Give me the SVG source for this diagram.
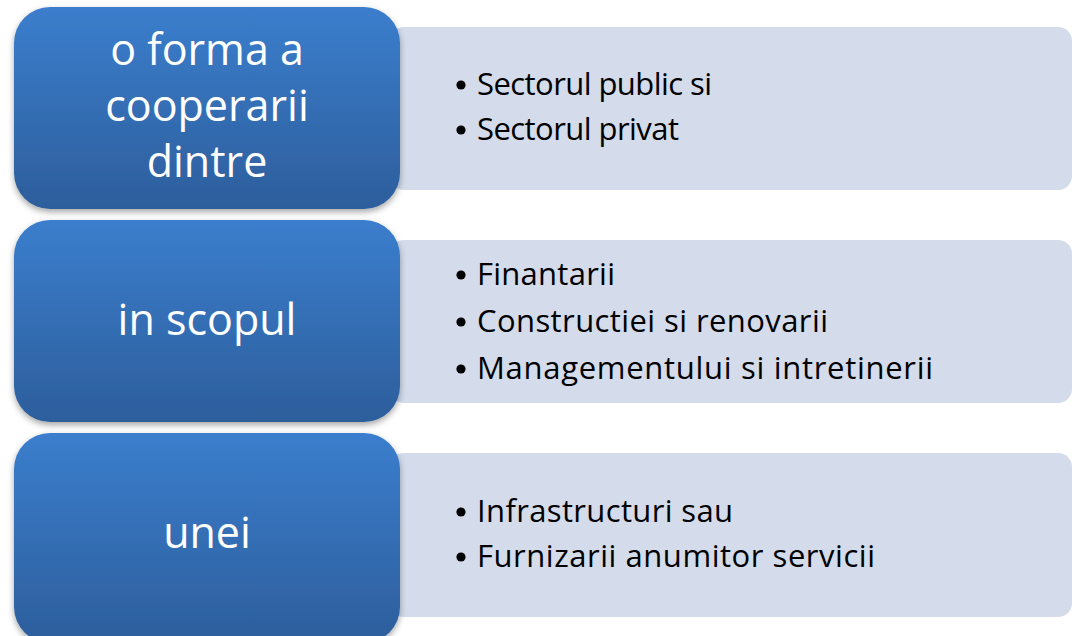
<svg xmlns="http://www.w3.org/2000/svg" width="1074" height="636" viewBox="0 0 1074 636">
  <defs>
    <linearGradient id="blueGrad" x1="0" y1="0" x2="0" y2="1">
      <stop offset="0" stop-color="#3b7ecd"/>
      <stop offset="1" stop-color="#2d5e9c"/>
    </linearGradient>
    <filter id="shadow" x="-10%" y="-10%" width="120%" height="130%">
      <feDropShadow dx="0" dy="3" stdDeviation="3" flood-color="#000000" flood-opacity="0.35"/>
    </filter>
  </defs>
  <style>
    .blue { fill: url(#blueGrad); filter: url(#shadow); }
    .light { fill: #d4dbea; }
    .head { font-family: "Open Sans", "Noto Sans", sans-serif; font-size: 43px; fill: #ffffff; text-anchor: middle; }
    .item { font-family: "Open Sans", "Noto Sans", sans-serif; font-size: 31px; fill: #000000; }
    .bullet { fill: #000000; }
  </style>
  <rect width="1074" height="636" fill="#ffffff"/>

  <g id="row1">
    <rect class="light" x="390" y="27" width="682" height="163" rx="14"/>
    <rect class="blue" x="14" y="7" width="386" height="202" rx="36"/>
    <text class="head" x="207" y="65">o forma a</text>
    <text class="head" x="207" y="121">cooperarii</text>
    <text class="head" x="207" y="177">dintre</text>
    <circle class="bullet" cx="461" cy="85" r="4.6"/>
    <text class="item" x="477" y="95" textLength="235">Sectorul public si</text>
    <circle class="bullet" cx="461" cy="130" r="4.6"/>
    <text class="item" x="477" y="140" textLength="202">Sectorul privat</text>
  </g>

  <g id="row2">
    <rect class="light" x="390" y="240" width="682" height="163" rx="14"/>
    <rect class="blue" x="14" y="220" width="386" height="202" rx="36"/>
    <text class="head" x="207" y="335">in scopul</text>
    <circle class="bullet" cx="461" cy="275" r="4.6"/>
    <text class="item" x="477" y="285" textLength="138">Finantarii</text>
    <circle class="bullet" cx="461" cy="322" r="4.6"/>
    <text class="item" x="477" y="332" textLength="351">Constructiei si renovarii</text>
    <circle class="bullet" cx="461" cy="369" r="4.6"/>
    <text class="item" x="477" y="379" textLength="456">Managementului si intretinerii</text>
  </g>

  <g id="row3">
    <rect class="light" x="390" y="453" width="682" height="164" rx="14"/>
    <rect class="blue" x="14" y="433" width="386" height="210" rx="36"/>
    <text class="head" x="207" y="548">unei</text>
    <circle class="bullet" cx="461" cy="512" r="4.6"/>
    <text class="item" x="477" y="522" textLength="256">Infrastructuri sau</text>
    <circle class="bullet" cx="461" cy="557" r="4.6"/>
    <text class="item" x="477" y="567" textLength="398">Furnizarii anumitor servicii</text>
  </g>

  <g id="connectors"></g>
</svg>
